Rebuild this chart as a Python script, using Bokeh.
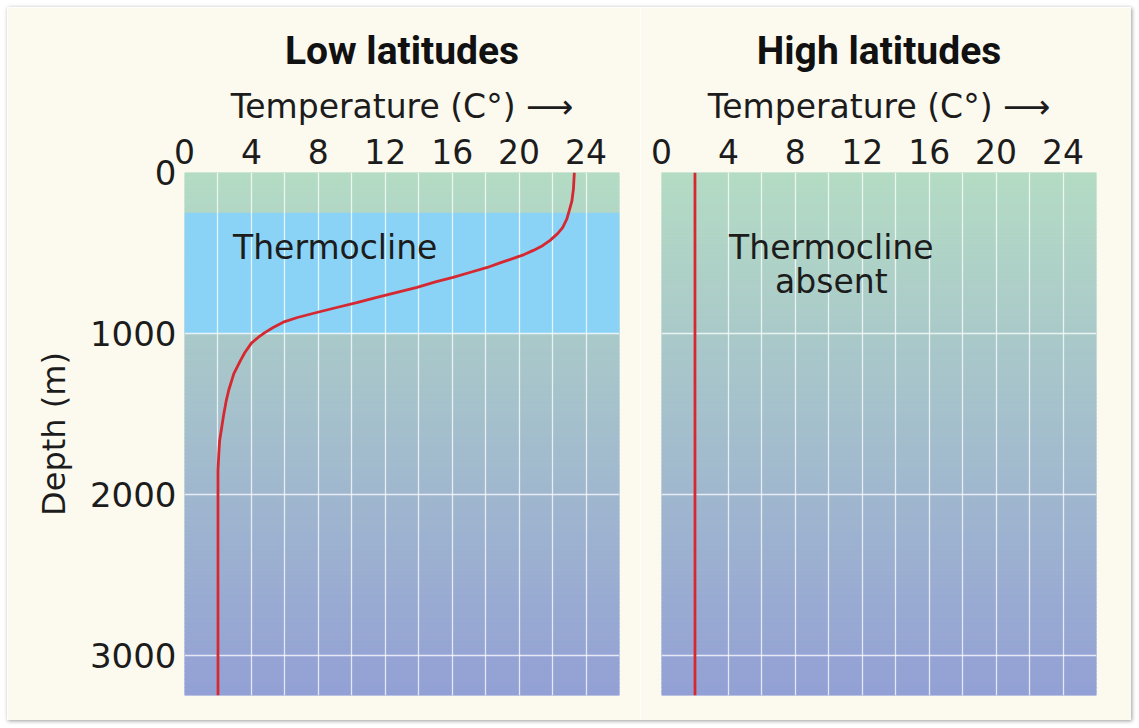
from bokeh.plotting import figure
from bokeh.layouts import row
from bokeh.models import Range1d, FixedTicker
from bokeh.core.properties import value
from bokeh.embed import file_html
from bokeh.resources import INLINE

# ---- data ----
temp_ticks = [0, 4, 8, 12, 16, 20, 24]
depth_ticks = [0, 1000, 2000, 3000]

low_depth = [0, 100, 180, 236, 290, 342, 380, 422, 455, 484, 510, 534, 560, 590, 620, 652,
             680, 714, 745, 776, 808, 839, 870, 901, 930, 963, 995, 1025, 1060, 1120, 1168,
             1250, 1350, 1416, 1500, 1600, 1665, 1750, 1851, 3250]
low_temp = [23.3, 23.25, 23.15, 23.0, 22.85, 22.6, 22.3, 21.85, 21.4, 20.85, 20.3, 19.65, 18.9,
            18.1, 17.1, 16.05, 15.0, 13.9, 12.7, 11.5, 10.3, 9.1, 7.9, 6.75, 5.9, 5.3, 4.8,
            4.4, 4.0, 3.6, 3.35, 2.95, 2.65, 2.5, 2.35, 2.2, 2.1, 2.05, 2.0, 2.0]

high_depth = [0, 3250]
high_temp = [2.0, 2.0]

thermocline_top = 250
thermocline_bottom = 1000

FONT = "DejaVu Sans"
TEXT = "#1c1c1c"
CREAM = "#fcfaef"
RED = "#d62830"
TOP_RGB = (180, 220, 196)
BOT_RGB = (147, 160, 213)


def hexc(rgb):
    return "#%02x%02x%02x" % tuple(int(round(c)) for c in rgb)


def make_panel(title, width, left, right, show_y):
    p = figure(width=width, height=713, output_backend="svg", toolbar_location=None,
               x_range=Range1d(0, 26), y_range=Range1d(3250, 0),
               x_axis_location="above", title=title,
               min_border_left=left, min_border_right=right,
               min_border_top=165, min_border_bottom=25)
    p.background_fill_color = CREAM
    p.border_fill_color = CREAM
    p.outline_line_color = None

    # vertical gradient background (style only)
    n = 130
    step = 3250 / n
    tops, bots, cols = [], [], []
    for i in range(n):
        f = (i + 0.5) / n
        tops.append(i * step)
        bots.append((i + 1) * step)
        cols.append(hexc([TOP_RGB[k] + (BOT_RGB[k] - TOP_RGB[k]) * f for k in range(3)]))
    r = p.quad(left=0, right=26, top=tops, bottom=bots, fill_color=cols, line_color=cols, line_width=1)
    r.level = "image"

    p.title.text_font = "Roboto"
    p.title.text_font_style = "bold"
    p.title.text_font_size = "39px"
    p.title.text_color = "#111111"
    p.title.align = "center"
    p.title.standoff = 20

    ax = p.xaxis[0]
    ax.ticker = FixedTicker(ticks=temp_ticks)
    ax.axis_label = "Temperature (C°) ⟶"
    ax.axis_label_text_font = FONT
    ax.axis_label_text_font_style = "normal"
    ax.axis_label_text_font_size = "33px"
    ax.axis_label_text_color = TEXT
    ax.axis_label_standoff = 10
    ax.major_label_text_font = FONT
    ax.major_label_text_font_size = "33px"
    ax.major_label_text_color = TEXT
    ax.major_label_standoff = 3
    ax.axis_line_color = None
    ax.major_tick_line_color = None
    ax.minor_tick_line_color = None

    yax = p.yaxis[0]
    yax.ticker = FixedTicker(ticks=depth_ticks)
    if show_y:
        yax.axis_label = "Depth (m)"
        yax.axis_label_text_font = FONT
        yax.axis_label_text_font_style = "normal"
        yax.axis_label_text_font_size = "32px"
        yax.axis_label_text_color = TEXT
        yax.axis_label_standoff = 14
        yax.major_label_text_font = FONT
        yax.major_label_text_font_size = "34px"
        yax.major_label_text_color = TEXT
        yax.major_label_standoff = 2
        yax.axis_line_color = None
        yax.major_tick_line_color = None
        yax.minor_tick_line_color = None
    else:
        yax.visible = False

    p.xgrid.ticker = FixedTicker(ticks=list(range(2, 26, 2)))
    p.ygrid.ticker = FixedTicker(ticks=[1000, 2000, 3000])
    for g in (p.xgrid[0], p.ygrid[0]):
        g.grid_line_color = "white"
        g.grid_line_alpha = 0.75
        g.grid_line_width = 1.3
        g.level = "underlay"
    return p


p1 = make_panel("Low latitudes", 633, 177, 21, True)
band = p1.quad(left=0, right=26, top=thermocline_top, bottom=thermocline_bottom,
               fill_color="#8ad3f6", line_color=None)
band.level = "image"
p1.line(low_temp, low_depth, line_color=RED, line_width=2.8)
p1.text(x=[2.9], y=[466], text=["Thermocline"], text_font=value(FONT),
        text_font_size="33px", text_color=TEXT, text_align="left", text_baseline="middle")

p2 = make_panel("High latitudes", 491, 21, 35, False)
p2.line(high_temp, high_depth, line_color=RED, line_width=2.8)
p2.text(x=[10.15], y=[571], text=["Thermocline\nabsent"], text_font=value(FONT),
        text_font_size="33px", text_color=TEXT, text_align="center", text_baseline="middle",
        text_line_height=0.87)

layout = row(p1, p2, spacing=0, margin=(7, 0, 0, 7),
             styles={"box-shadow": "1px 1px 4px #9a9a9a"})

open("out.html", "w").write(file_html(layout, INLINE))
